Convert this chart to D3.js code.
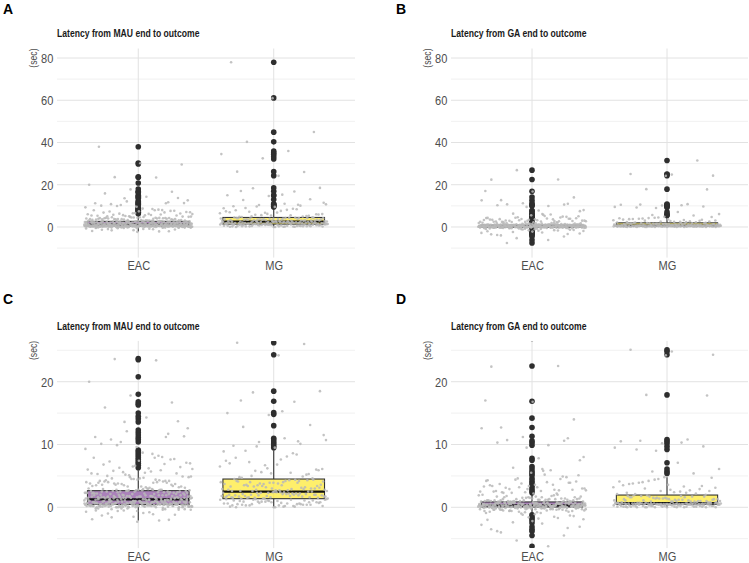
<!DOCTYPE html>
<html>
<head>
<meta charset="utf-8">
<script src="https://cdn.jsdelivr.net/npm/d3@7"></script>
<style>
  body { margin: 0; background: #fff; }
  text { font-family: 'Liberation Sans Narrow', 'Arial Narrow', 'Liberation Sans', sans-serif; }
</style>
</head>
<body>
<script>
const categories = ["EAC", "MG"];
const panelLetters = ["A", "B", "C", "D"];
const titleMau = "Latency from MAU end to outcome";
const titleGa = "Latency from GA end to outcome";
const unitLabel = "(sec)";

const wideTicks = [0, 20, 40, 60, 80];
const wideMinor = [-10, 10, 30, 50, 70];
const zoomTicks = [0, 10, 20];
const zoomMinor = [-5, 5, 15, 25];

// box stats: [lower whisker, q1, median, q3, upper whisker]
const mauEacBox = [-2.1, 0.45, 1.25, 2.65, 5.9];
const mauMgBox = [0.0, 1.37, 2.5, 4.5, 9.1];
const gaEacBox = [-1.1, 0.05, 0.3, 0.85, 2.1];
const gaMgBox = [0.0, 0.45, 0.65, 1.95, 4.8];

const mauEacOut = [6.3, 6.7, 7.0, 7.3, 7.6, 7.9, 8.2, 8.5, 8.8, 9.1, 10.4, 10.8, 11.1, 11.5, 11.9, 12.3,
  13.6, 14.1, 14.5, 15.0, 16.3, 16.5, 16.8, 18.0, 20.8, 23.5, 23.7, 29.8, 30.3, 38.0];
const mauMgOut = [9.5, 9.8, 10.1, 10.4, 10.7, 11.0, 13.0, 14.8, 15.1, 16.9, 18.5, 24.3, 26.2,
  32.2, 33.3, 34.4, 35.2, 36.0, 40.3, 44.9, 61.1, 78.0];
const gaEacOut = [2.3, 2.6, 2.9, 3.3, 3.6, 3.9, 4.2, 4.6, 5.1, 5.4, 5.7, 6.1, 6.5, 7.5, 7.8, 9.9, 10.3,
  10.6, 11.3, 12.7, 14.2, 16.9, 22.5, 26.9, -1.2, -1.5, -1.8, -2.1, -2.5, -3.1, -3.5, -3.8, -4.5, -6.2, -7.6];
const gaMgOut = [5.4, 5.7, 6.1, 7.1, 9.2, 9.7, 10.2, 10.5, 10.8, 17.9, 24.3, 24.8, 25.1, 31.5];

// raw latencies (jittered grey points)
const mauEac = [
  -0.2,-0.3,-0.5,-0.4,-0.8,-1.0,-1.2,-1.5,-1.9,-2.1,-0.6,-0.3,-0.9,-1.3,-2.0,-0.2,-0.7,-1.1,-1.6,-0.4,-2.3,-0.5,-0.1,-0.2,
  0.1,0.3,0.5,0.2,0.7,0.4,0.9,0.6,0.0,0.8,0.2,0.5,0.3,0.1,0.6,0.4,0.7,0.9,0.2,0.5,
  0.3,0.8,0.1,0.4,0.6,0.0,0.7,0.3,0.5,0.9,0.2,0.6,0.4,0.1,0.8,0.3,0.5,0.7,0.2,0.4,
  0.6,0.0,0.9,0.3,0.5,0.1,0.7,0.4,0.8,0.2,0.5,0.3,0.6,0.9,0.1,0.4,0.7,0.2,0.5,0.8,
  0.3,0.0,0.6,0.4,0.9,0.2,0.7,0.5,0.1,0.3,0.8,0.4,0.6,0.2,0.5,0.9,0.3,0.7,0.1,0.4,
  0.6,0.2,0.8,0.5,0.0,0.3,0.7,0.4,0.9,0.1,0.5,0.6,0.2,0.8,0.3,0.4,0.7,0.1,0.6,0.5,
  1.2,1.5,1.1,1.8,1.3,1.6,1.0,1.9,1.4,1.7,1.1,1.3,1.6,1.2,1.8,1.5,1.0,1.4,1.9,1.7,
  1.3,1.1,1.5,1.8,1.2,1.6,1.4,1.0,1.7,1.9,1.2,1.5,1.3,1.6,1.1,1.8,1.4,1.7,1.0,1.5,
  1.6,1.2,1.9,1.3,1.7,1.1,1.4,1.8,1.5,1.0,1.3,1.6,1.2,1.7,1.4,1.9,1.1,1.5,1.8,1.2,
  2.1,2.5,2.3,2.8,2.0,2.6,2.2,2.9,2.4,2.7,2.3,2.1,2.6,2.5,2.8,2.2,2.4,2.0,2.7,2.9,
  2.5,2.3,2.1,2.6,2.4,2.8,2.2,2.7,2.0,2.5,2.6,2.3,2.9,2.1,2.4,2.7,2.2,2.8,2.5,2.3,
  3.2,4.1,3.6,4.8,3.0,4.4,3.8,3.3,4.6,3.9,4.2,3.5,4.9,3.1,4.0,3.7,4.5,3.4,4.3,3.8,
  3.1,4.7,3.6,4.2,3.3,4.0,3.9,4.6,3.2,4.4,3.5,4.1,3.7,4.8,3.0,4.3,3.4,4.5,3.8,4.0,
  3.6,4.9,3.3,4.2,3.9,
  5.2,6.1,5.7,7.3,5.4,6.6,7.9,5.9,6.3,7.1,5.5,6.8,7.6,5.1,6.0,7.9,5.8,6.4,7.4,5.3,
  6.9,5.6,7.0,6.2,5.0,7.7,6.5,5.4,
  8.2,9.9,11.3,8.7,10.1,11.7,12.1,9.3,8.5,10.8,13.7,9.6,11.2,8.0,10.4,12.6,
  14.3,15.9,16.7,17.8,20.0,23.4,23.6,29.6,30.2,38.0,11.2,13.6,
  0.2,0.4,0.1,0.6,0.3,0.8,0.5,0.0,0.7,0.2,0.9,0.4,0.1,0.6,0.3,0.5,0.8,0.2,0.0,0.7,
  0.4,0.1,0.6,0.3,0.9,0.5,0.2,0.8,0.0,0.4,0.7,0.1,0.5,0.3,0.6,0.2,0.9,0.4,0.0,0.8,
  1.1,1.6,1.3,1.9,1.0,1.4,1.7,1.2,1.5,1.8,1.3,1.0,1.6,1.1,1.9,1.4,1.2,1.7,1.5,1.0,
  2.2,2.7,2.4,2.0,2.9,2.5,2.1,2.6,2.3,2.8,
  -0.3,-0.1,-0.6,-0.2,-0.4
];
const mauMg = [
  0.0,0.3,0.6,0.9,1.2,0.1,0.4,0.8,1.1,1.3,0.2,0.5,0.7,1.0,0.0,0.4,0.9,1.2,0.6,0.3,
  1.1,0.8,0.1,0.5,1.3,0.2,0.7,1.0,0.4,0.9,0.6,1.2,0.3,0.8,0.0,1.1,0.5,0.7,1.3,0.2,
  0.9,0.4,1.0,0.6,0.1,1.2,0.8,0.3,0.5,1.1,
  1.4,1.8,2.2,1.5,2.0,2.4,1.6,1.9,2.3,1.7,2.1,1.4,2.5,1.8,1.6,2.2,2.0,1.5,2.4,1.9,
  1.7,2.3,1.4,2.1,1.8,2.5,1.6,2.0,2.2,1.5,1.9,2.4,1.7,2.1,1.4,2.3,1.8,1.6,2.0,2.5,
  1.5,2.2,1.9,1.7,2.4,2.1,1.6,2.3,1.8,2.0,
  2.6,3.1,3.8,4.2,2.9,3.4,4.0,2.7,3.6,4.4,3.0,3.3,3.9,2.8,4.1,3.5,2.6,4.3,3.2,3.7,
  2.9,4.0,3.4,2.7,4.5,3.1,3.8,2.6,4.2,3.5,3.0,3.9,2.8,4.4,3.3,3.6,2.7,4.1,3.2,3.7,
  2.9,4.3,3.4,3.0,3.9,2.6,4.2,3.5,2.8,4.0,
  4.7,5.3,6.2,7.4,8.6,5.0,5.9,6.8,7.9,4.9,5.6,6.5,8.1,9.0,4.6,5.4,7.0,8.4,5.8,6.1,
  7.6,4.8,5.2,6.7,8.9,5.5,7.2,6.0,
  9.5,9.8,10.1,10.4,10.7,11.0,12.8,13.1,14.7,15.0,16.8,18.3,18.5,24.2,26.2,26.0,32.5,34.5,
  36.0,40.3,45.0,61.0,78.0,10.5,9.7,11.5,15.3,17.0
];
const gaEac = [
  -0.1,-0.3,-0.2,-0.5,-0.1,-0.4,-0.7,-0.2,-0.9,-0.3,-0.6,-0.1,-0.8,-0.2,-0.4,-1.0,-0.3,-0.5,-0.1,-0.6,
  -0.2,-0.7,-0.4,-0.1,-0.3,-0.9,-0.2,-0.5,-0.8,-0.1,-0.3,-0.6,-0.2,-1.1,-0.4,-0.1,-0.7,-0.3,-0.2,-0.5,
  -1.3,-1.6,-2.0,-1.5,-2.4,-3.1,-1.8,-3.8,-4.5,-1.2,-2.8,-6.2,-7.6,-1.4,-2.2,-3.5,-1.7,-5.3,-1.9,-2.6,-4.0,-3.3,
  0.1,0.3,0.0,0.5,0.2,0.7,0.4,0.1,0.6,0.3,0.0,0.8,0.2,0.5,0.1,0.4,0.7,0.3,0.0,0.6,
  0.2,0.1,0.5,0.3,0.8,0.0,0.4,0.2,0.6,0.1,0.3,0.7,0.0,0.5,0.2,0.4,0.1,0.8,0.3,0.6,
  0.0,0.2,0.4,0.1,0.7,0.3,0.5,0.0,0.2,0.6,0.1,0.4,0.3,0.8,0.0,0.2,0.5,0.1,0.7,0.3,
  0.4,0.0,0.6,0.2,0.1,0.5,0.3,0.8,0.0,0.4,0.2,0.7,0.1,0.3,0.6,0.0,0.5,0.2,0.4,0.1,
  0.3,0.8,0.0,0.6,0.2,0.5,0.1,0.4,0.7,0.3,0.0,0.2,0.6,0.1,0.5,0.3,0.8,0.0,0.4,0.2,
  0.7,0.1,0.3,0.0,0.5,0.2,0.6,0.4,0.1,0.8,0.0,0.3,0.2,0.5,0.1,0.7,0.4,0.0,0.6,0.3,
  0.9,1.3,1.0,1.6,1.1,1.9,0.9,1.4,1.2,1.7,1.0,1.5,0.9,1.2,1.8,1.1,1.4,1.0,2.0,1.3,
  0.9,1.6,1.1,1.2,1.5,1.0,1.8,0.9,1.3,1.7,1.1,1.4,1.0,1.9,1.2,1.6,0.9,1.5,1.1,1.3,
  1.0,1.7,1.2,0.9,1.4,1.1,2.0,1.3,1.0,1.6,
  2.2,3.4,2.7,4.6,3.0,5.8,2.4,3.9,2.9,4.2,3.6,2.3,5.1,3.2,2.6,4.9,3.8,2.5,4.0,3.1,
  2.8,5.5,3.5,2.2,4.4,3.0,2.6,3.7,4.8,2.4,3.3,5.9,2.9,4.1,3.6,2.5,4.5,3.2,2.7,5.2,
  2.3,3.9,3.4,4.3,2.8,
  6.3,7.5,7.8,10.3,10.6,11.2,12.6,9.9,10.7,14.0,16.8,22.4,22.5,26.9,8.0,6.1,12.7,11.0,9.5,17.0,
  0.2,0.0,0.4,0.1,0.6,0.3,0.0,0.5,0.2,0.7,0.1,0.4,0.0,0.3,0.8,0.2,0.5,0.1,0.6,0.0,
  0.3,0.4,0.1,0.7,0.2,0.0,0.5,0.3,0.6,0.1,0.2,0.8,0.0,0.4,0.3,0.1,0.5,0.2,0.7,0.0,
  0.4,0.1,0.6,0.3,0.2,0.0,0.5,0.8,0.1,0.3,
  -0.2,-0.4,-0.1,-0.3,-0.6,-0.2,-0.5,-0.1,-0.3,-0.4
];
const gaMg = [
  0.0,0.1,0.3,0.2,0.4,0.0,0.2,0.1,0.3,0.4,0.1,0.0,0.2,0.4,0.3,0.1,0.0,0.3,0.2,0.4,
  0.0,0.2,0.1,0.4,0.3,0.0,0.1,0.3,0.2,0.4,0.1,0.0,0.2,0.3,0.4,0.0,0.1,0.2,0.4,0.3,
  0.0,0.3,0.1,0.2,0.4,0.0,0.2,0.3,0.1,0.4,
  0.5,0.6,0.5,0.6,0.5,0.5,0.6,0.6,0.5,0.6,0.5,0.6,0.5,0.5,0.6,0.6,0.5,0.6,0.5,0.6,
  0.5,0.6,0.6,0.5,0.5,0.6,0.5,0.6,0.5,0.6,0.6,0.5,0.6,0.5,0.5,0.6,0.5,0.6,0.6,0.5,
  0.5,0.6,0.5,0.6,0.6,0.5,0.6,0.5,0.5,0.6,
  0.7,1.2,0.9,1.6,0.8,1.4,1.1,1.8,0.7,1.0,1.5,1.3,0.9,1.7,0.8,1.2,1.9,1.0,1.4,0.7,
  1.6,1.1,0.8,1.3,1.8,0.9,1.5,1.0,1.2,0.7,1.7,1.4,0.8,1.1,1.9,1.3,0.9,1.6,1.0,1.5,
  0.7,1.2,1.8,0.8,1.4,1.1,1.7,0.9,1.3,1.0,
  2.1,3.4,2.6,4.1,2.3,3.0,4.7,2.8,3.7,2.2,4.4,3.2,2.5,3.9,2.0,4.8,3.5,2.7,4.2,3.1,
  2.4,3.8,2.9,4.5,2.1,3.3,4.0,2.6,3.6,2.3,
  5.4,5.7,6.1,7.1,9.2,9.7,10.2,10.5,10.8,17.9,24.3,24.8,25.1,31.5,9.0,9.5,10.3,10.6,17.8,24.2
];

const W = 749, H = 563;
const NARROW = 0.82; // horizontal squeeze to mimic a condensed face

const svg = d3.select("body").append("svg")
  .attr("width", W)
  .attr("height", H);

const fills = {EAC: "#a173b3", MG: "#FDE725"};
const fillOpacity = {EAC: 0.9, MG: 0.68};

const panels = [
  {letter: panelLetters[0], title: titleMau, left: 57, right: 355, top: 48.5, bottom: 257.6,
   dom: [-14.5, 84.5], ticks: wideTicks, minor: wideMinor, letterX: 3, letterY: 13.5,
   groups: {EAC: [mauEac, mauEacBox, mauEacOut], MG: [mauMg, mauMgBox, mauMgOut]}},
  {letter: panelLetters[1], title: titleGa, left: 451, right: 748, top: 48.5, bottom: 257.6,
   dom: [-14.5, 84.5], ticks: wideTicks, minor: wideMinor, letterX: 396, letterY: 13.5,
   groups: {EAC: [gaEac, gaEacBox, gaEacOut], MG: [gaMg, gaMgBox, gaMgOut]}},
  {letter: panelLetters[2], title: titleMau, left: 57, right: 355, top: 340.9, bottom: 548.1,
   dom: [-6.5, 26.5], ticks: zoomTicks, minor: zoomMinor, letterX: 3, letterY: 303.5,
   groups: {EAC: [mauEac, mauEacBox, mauEacOut], MG: [mauMg, mauMgBox, mauMgOut]}},
  {letter: panelLetters[3], title: titleGa, left: 451, right: 748, top: 340.9, bottom: 548.1,
   dom: [-6.5, 26.5], ticks: zoomTicks, minor: zoomMinor, letterX: 396, letterY: 303.5,
   groups: {EAC: [gaEac, gaEacBox, gaEacOut], MG: [gaMg, gaMgBox, gaMgOut]}}
];

panels.forEach((p, pi) => {
  const g = svg.append("g");
  const x = d3.scalePoint().domain(categories).range([p.left, p.right]).padding(0.6);
  const y = d3.scaleLinear().domain(p.dom).range([p.bottom, p.top]);
  const step = x.step();

  const clipId = "clip" + pi;
  svg.append("clipPath").attr("id", clipId)
    .append("rect")
    .attr("x", p.left).attr("y", p.top)
    .attr("width", p.right - p.left).attr("height", p.bottom - p.top);

  // grid
  g.selectAll(".minor").data(p.minor).enter().append("line")
    .attr("x1", p.left).attr("x2", p.right)
    .attr("y1", d => y(d)).attr("y2", d => y(d))
    .attr("stroke", "#ededed").attr("stroke-width", 0.8);
  g.selectAll(".major").data(p.ticks).enter().append("line")
    .attr("x1", p.left).attr("x2", p.right)
    .attr("y1", d => y(d)).attr("y2", d => y(d))
    .attr("stroke", "#e2e2e2").attr("stroke-width", 1);
  g.selectAll(".vgrid").data(categories).enter().append("line")
    .attr("x1", d => x(d)).attr("x2", d => x(d))
    .attr("y1", p.top).attr("y2", p.bottom)
    .attr("stroke", "#e2e2e2").attr("stroke-width", 1);

  // axes
  const ya = g.append("g").attr("transform", `translate(${p.left},0)`)
    .call(d3.axisLeft(y).tickValues(p.ticks).tickSize(0).tickPadding(4.5));
  ya.select(".domain").remove();
  ya.selectAll("text").style("font-size", "13.5px").attr("fill", "#4d4d4d")
    .attr("transform", `scale(${NARROW},1)`);

  const xa = g.append("g").attr("transform", `translate(0,${p.bottom})`)
    .call(d3.axisBottom(x).tickSize(0).tickPadding(3.3));
  xa.select(".domain").remove();
  xa.selectAll("text").style("font-size", "13.5px").attr("fill", "#4d4d4d")
    .attr("transform", `scale(${NARROW},1)`);

  // labels
  svg.append("text")
    .attr("x", p.letterX).attr("y", p.letterY)
    .style("font-family", "'Liberation Sans', Arial, sans-serif")
    .style("font-weight", "bold").style("font-size", "14px")
    .text(p.letter);
  svg.append("text")
    .attr("transform", `translate(${p.left},${p.top - 11.4}) scale(${NARROW},1)`)
    .style("font-weight", "bold").style("font-size", "10.5px")
    .attr("fill", "#1a1a1a")
    .text(p.title);
  svg.append("text")
    .attr("transform", `translate(${p.left - 20},${p.top}) rotate(-90) scale(${NARROW},1)`)
    .attr("text-anchor", "end")
    .style("font-size", "10.5px")
    .attr("fill", "#4d4d4d")
    .text(unitLabel);

  const plot = g.append("g").attr("clip-path", `url(#${clipId})`);

  categories.forEach((c, ci) => {
    const [vals, box, outs] = p.groups[c];
    const cx = x(c);
    const bw = step * 0.75;

    // whiskers
    plot.append("line").attr("x1", cx).attr("x2", cx)
      .attr("y1", y(box[3])).attr("y2", y(box[4]))
      .attr("stroke", "#333").attr("stroke-width", 1.1);
    plot.append("line").attr("x1", cx).attr("x2", cx)
      .attr("y1", y(box[1])).attr("y2", y(box[0]))
      .attr("stroke", "#333").attr("stroke-width", 1.1);
    // box
    plot.append("rect")
      .attr("x", cx - bw / 2).attr("width", bw)
      .attr("y", y(box[3])).attr("height", y(box[1]) - y(box[3]))
      .attr("fill", fills[c]).attr("fill-opacity", fillOpacity[c])
      .attr("stroke", "#333").attr("stroke-width", 1.1);
    plot.append("line")
      .attr("x1", cx - bw / 2).attr("x2", cx + bw / 2)
      .attr("y1", y(box[2])).attr("y2", y(box[2]))
      .attr("stroke", "#111").attr("stroke-width", 2.2);
    // outliers
    plot.selectAll(null).data(outs).enter().append("circle")
      .attr("cx", cx).attr("cy", d => y(d)).attr("r", 2.8)
      .attr("fill", "#2e2e2e");
    // jittered raw points
    const seed = ci * 0.37 + 0.13;
    plot.selectAll(null).data(vals).enter().append("circle")
      .attr("cx", (d, i) => cx + (((i * 0.6180339887 + seed) % 1) * 0.8 - 0.4) * step)
      .attr("cy", d => y(d))
      .attr("r", 1.3)
      .attr("fill", "#b8b8b8")
      .attr("fill-opacity", 0.85);
  });
});
</script>
</body>
</html>
